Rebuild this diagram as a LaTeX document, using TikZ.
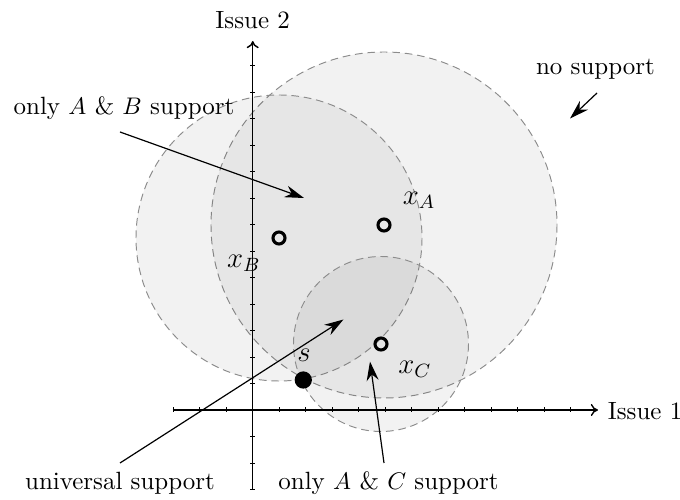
\documentclass[tikz,border=0pt]{standalone}
\usetikzlibrary{arrows.meta}
\tikzset{
  region/.style={fill=black, fill opacity=0.05, draw=black!45, dash pattern=on 3.2pt off 2pt, line width=0.4pt},
  axis/.style={line width=0.6pt, -{To[length=3pt,width=5pt]}},
  tick/.style={line width=0.4pt},
  pt/.style={circle, draw=black, line width=1.3pt, minimum size=5pt, inner sep=0pt, fill=none},
  spt/.style={circle, fill=black, minimum size=7.2pt, inner sep=0pt},
  lbl/.style={inner sep=0pt, font=\large},
  txt/.style={inner sep=1pt, font=\fontsize{10.4pt}{12.5pt}\selectfont},
  pointer/.style={line width=0.5pt, -{Stealth[length=8pt,width=5pt]}}
}
\begin{document}
\begin{tikzpicture}[x=0.4167pt, y=-0.4167pt]
\useasboundingbox (0,0) rectangle (680,500);
% regions
\draw[region] (384,225) circle [radius=173];
\draw[region] (279,238) circle [radius=143];
\draw[region] (381,344) circle [radius=87.5];
% axes
\coordinate (o) at (252.7,410);
\coordinate (xs) at (172.7,410);
\coordinate (xe) at (598,410);
\coordinate (ys) at (252.7,490);
\coordinate (ye) at (252.7,41);
\draw[axis] (xs) -- (xe);
\draw[axis] (ys) -- (ye);
\foreach \k in {-3,...,12} \draw[tick] (252.7+26.5*\k,407.5) -- (252.7+26.5*\k,412.5);
\foreach \k in {-3,...,13} \draw[tick] (250.2,410-26.5*\k) -- (255.2,410-26.5*\k);
\node[txt, anchor=west] (i1) at (605,411) {Issue 1};
\node[txt, anchor=base] (i2) at (252.7,29) {Issue 2};
% points
\node[pt] (A) at (384,225) {};
\node[pt] (B) at (279,238) {};
\node[pt] (C) at (381,344) {};
\node[spt] (s) at (303.3,380) {};
\node[lbl] (lA) at (419,200) {$x_A$};
\node[lbl] (lB) at (244,263) {$x_B$};
\node[lbl] (lC) at (415,369) {$x_C$};
\node[lbl] (ls) at (304,355) {$s$};
% labels
\node[txt, anchor=base] (ns) at (595.5,75) {no support};
\node[txt, anchor=base] (ab) at (124,115) {only $A$ \& $B$ support};
\node[txt, anchor=base] (us) at (120,490) {universal support};
\node[txt, anchor=base] (ac) at (388.5,490) {only $A$ \& $C$ support};
% arrows
\coordinate (ns1) at (597,93);
\coordinate (ns2) at (570,118.5);
\coordinate (ab1) at (120,132);
\coordinate (ab2) at (304,198);
\coordinate (us1) at (120,463);
\coordinate (us2) at (343.5,319.5);
\coordinate (ac1) at (384,463);
\coordinate (ac2) at (370,361.5);
\draw[pointer] (ns1) -- (ns2);
\draw[pointer] (ab1) -- (ab2);
\draw[pointer] (us1) -- (us2);
\draw[pointer] (ac1) -- (ac2);
\end{tikzpicture}
\end{document}
